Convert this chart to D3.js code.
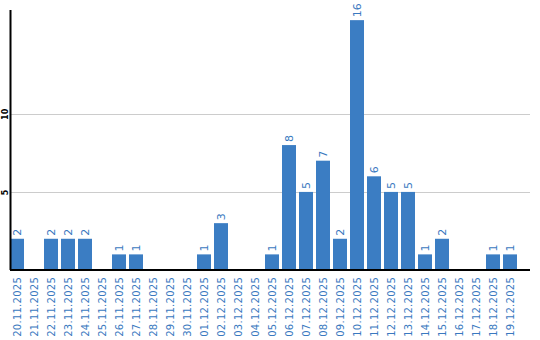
<!DOCTYPE html>
<html>
<head>
<meta charset="utf-8">
<script src="https://cdn.jsdelivr.net/npm/d3@7"></script>
<style>
  body { margin: 0; background: #fff; }
  svg { display: block; }
</style>
</head>
<body>
<div id="chart"></div>
<script>
// Data
const dates = [
    "20.11.2025", "21.11.2025", "22.11.2025", "23.11.2025", "24.11.2025",
    "25.11.2025", "26.11.2025", "27.11.2025", "28.11.2025", "29.11.2025",
    "30.11.2025", "01.12.2025", "02.12.2025", "03.12.2025", "04.12.2025",
    "05.12.2025", "06.12.2025", "07.12.2025", "08.12.2025", "09.12.2025",
    "10.12.2025", "11.12.2025", "12.12.2025", "13.12.2025", "14.12.2025",
    "15.12.2025", "16.12.2025", "17.12.2025", "18.12.2025", "19.12.2025"
];
const counts = [
    2, 0, 2, 2, 2,
    0, 1, 1, 0, 0,
    0, 1, 3, 0, 0,
    1, 8, 5, 7, 2,
    16, 6, 5, 5, 1,
    2, 0, 0, 1, 1
];
const yTicks = [5, 10];

// Layout
const width = 540;
const height = 340;
const margin = {top: 10, right: 10, bottom: 70, left: 10};
const barColor = "#3b7dc3";
const textColor = "#3a79c0";

const svg = d3.select("#chart")
    .append("svg")
    .attr("width", width)
    .attr("height", height);

const xScale = d3.scaleBand()
    .domain(dates)
    .range([margin.left, margin.left + 17 * (dates.length - 3 / 17)])
    .paddingInner(3 / 17)
    .paddingOuter(0);

const yScale = d3.scaleLinear()
    .domain([0, 16.65])
    .range([height - margin.bottom, margin.top]);

// gridlines
svg.append("g")
    .selectAll("line")
    .data(yTicks)
    .join("line")
    .attr("x1", margin.left)
    .attr("x2", width - margin.right)
    .attr("y1", d => Math.round(yScale(d)) + 0.5)
    .attr("y2", d => Math.round(yScale(d)) + 0.5)
    .attr("stroke", "#cccccc")
    .attr("stroke-width", 1);

const barData = counts.map((v, i) => ({date: dates[i], value: v})).filter(d => d.value > 0);

// bars
svg.append("g")
    .selectAll("rect")
    .data(barData)
    .join("rect")
    .attr("x", d => xScale(d.date))
    .attr("y", d => yScale(d.value))
    .attr("width", xScale.bandwidth())
    .attr("height", d => yScale(0) - yScale(d.value))
    .attr("fill", barColor);

// value labels
svg.append("g")
    .selectAll("text")
    .data(barData)
    .join("text")
    .attr("transform", d => `translate(${xScale(d.date) + xScale.bandwidth() / 2 + 4},${yScale(d.value) - 3}) rotate(-90)`)
    .attr("font-family", "DejaVu Sans, sans-serif")
    .attr("font-size", 11)
    .attr("fill", textColor)
    .text(d => d.value);

// x axis
const xAxis = svg.append("g")
    .attr("transform", `translate(0,${height - margin.bottom})`)
    .call(d3.axisBottom(xScale).tickSize(0));
xAxis.select(".domain").remove();
xAxis.append("line")
    .attr("x1", margin.left)
    .attr("x2", width - margin.right)
    .attr("y1", 0)
    .attr("y2", 0)
    .attr("stroke", "#000")
    .attr("stroke-width", 2);
xAxis.selectAll(".tick text")
    .attr("transform", "translate(4,7) rotate(-90)")
    .attr("x", 0)
    .attr("y", 0)
    .attr("dy", 0)
    .attr("text-anchor", "end")
    .attr("font-family", "DejaVu Sans, sans-serif")
    .attr("font-size", 10)
    .attr("letter-spacing", 0.25)
    .attr("fill", textColor);

// y axis
const yAxis = svg.append("g")
    .attr("transform", `translate(${margin.left},0)`)
    .call(d3.axisLeft(yScale).tickValues(yTicks).tickSize(0));
yAxis.select(".domain").remove();
yAxis.append("line")
    .attr("x1", 0.5)
    .attr("x2", 0.5)
    .attr("y1", margin.top)
    .attr("y2", height - margin.bottom)
    .attr("stroke", "#000")
    .attr("stroke-width", 2);
yAxis.selectAll(".tick text")
    .attr("transform", "translate(-2,0) rotate(-90)")
    .attr("x", 0)
    .attr("y", 0)
    .attr("dy", 0)
    .attr("text-anchor", "middle")
    .attr("font-family", "DejaVu Sans, sans-serif")
    .attr("font-size", 8)
    .attr("font-weight", "bold")
    .attr("fill", "#000");
</script>
</body>
</html>
